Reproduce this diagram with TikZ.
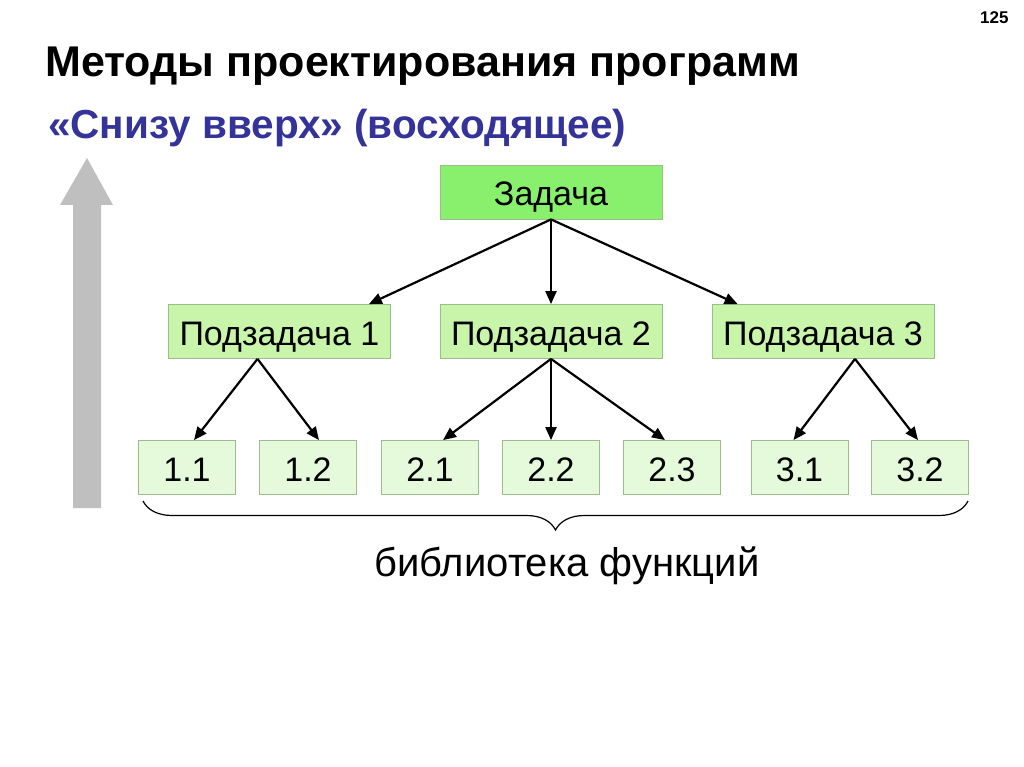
\documentclass[tikz,border=0pt]{standalone}
\usepackage{fontspec}
\setmainfont{Liberation Sans}
\usetikzlibrary{arrows.meta,decorations.pathreplacing}
\definecolor{taskgreen}{HTML}{88F06C}
\definecolor{subgreen}{HTML}{C8F5AA}
\definecolor{leafgreen}{HTML}{E4FADA}
\definecolor{boxline}{HTML}{9CBC8C}
\definecolor{subtitleblue}{HTML}{333399}
\begin{document}
\begin{tikzpicture}[x=1pt,y=-1pt,
	box/.style={draw=boxline,line width=0.8pt,minimum height=54pt,inner sep=0pt,text height=28pt,text depth=0pt,font=\fontsize{34}{38}\selectfont},
	taskbox/.style={box,fill=taskgreen,minimum width=222pt},
	subbox/.style={box,fill=subgreen,minimum width=222pt},
	leafbox/.style={box,fill=leafgreen,minimum width=97pt},
	link/.style={-{Triangle[length=13pt,width=11pt]},line width=2.2pt}]
	\useasboundingbox[fill=white] (0,0) rectangle (1024,767);

	\node[anchor=base east,font=\bfseries\fontsize{17}{20}\selectfont] (page) at (1012,24) {125};
	\node[anchor=base west,inner sep=0pt,font=\bfseries\fontsize{43}{48}\selectfont] (title) at (45,77) {Методы проектирования программ};
	\node[anchor=base west,inner sep=0pt,text=subtitleblue,font=\bfseries\fontsize{40.5}{46}\selectfont] (subtitle) at (48,139) {«Снизу вверх» (восходящее)};

	% gray arrow
	\fill[black!25] (73,508) -- (101,508) -- (101,205) -- (113,205) -- (87,158) -- (60,205) -- (73,205) -- cycle;

	\node[taskbox] (task) at (551,192) {Задача};
	\node[subbox] (sub1) at (279.5,331.5) {Подзадача 1};
	\node[subbox] (sub2) at (551,331.5) {Подзадача 2};
	\node[subbox] (sub3) at (823,331.5) {Подзадача 3};

	\node[leafbox] (l11) at (187,467.5) {1.1};
	\node[leafbox] (l12) at (308,467.5) {1.2};
	\node[leafbox] (l21) at (430,467.5) {2.1};
	\node[leafbox] (l22) at (551,467.5) {2.2};
	\node[leafbox] (l23) at (672,467.5) {2.3};
	\node[leafbox] (l31) at (799.5,467.5) {3.1};
	\node[leafbox] (l32) at (920,467.5) {3.2};

	\draw[link] (task.south) -- ([xshift=-22pt]sub1.north east);
	\draw[link] (task.south) -- (sub2.north);
	\draw[link] (task.south) -- ([xshift=26pt]sub3.north west);

	\draw[link] ([xshift=-22pt]sub1.south) -- ([xshift=7pt]l11.north);
	\draw[link] ([xshift=-22pt]sub1.south) -- ([xshift=11pt]l12.north);
	\draw[link] (sub2.south) -- ([xshift=13pt]l21.north);
	\draw[link] (sub2.south) -- (l22.north);
	\draw[link] (sub2.south) -- ([xshift=-7pt]l23.north);
	\draw[link] ([xshift=32pt]sub3.south) -- ([xshift=-6pt]l31.north);
	\draw[link] ([xshift=32pt]sub3.south) -- ([xshift=-2pt]l32.north);

	\coordinate (bl) at (143,501);
	\coordinate (br) at (968,501);
	\draw[decorate,decoration={brace,mirror,amplitude=29pt},line width=1.2pt] (bl) -- (br);
	\node[font=\fontsize{40}{46}\selectfont] (lib) at (567,566) {библиотека функций};
\end{tikzpicture}
\end{document}
